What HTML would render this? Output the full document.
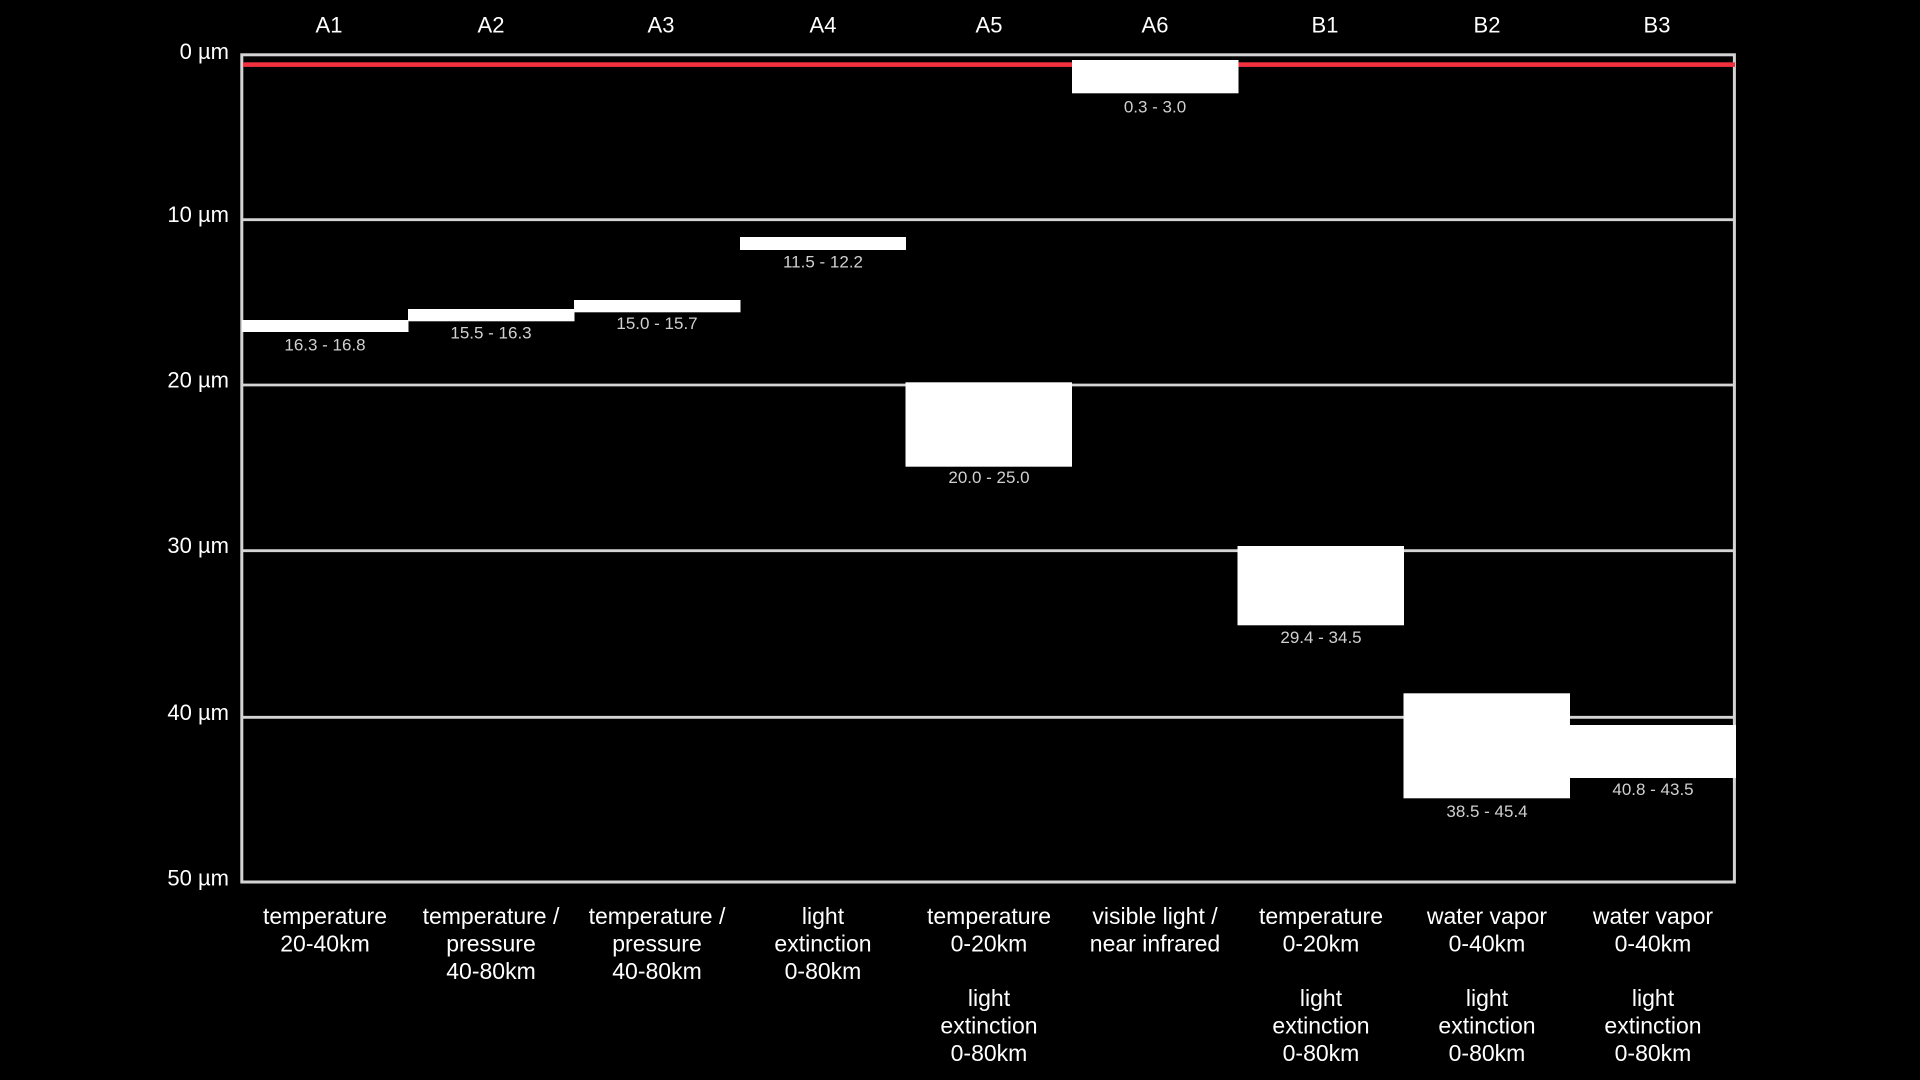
<!DOCTYPE html>
<html>
<head>
<meta charset="utf-8">
<style>
  html, body { margin:0; padding:0; background:#000; }
  body { width:1920px; height:1080px; overflow:hidden; }
  svg { display:block; }
  text { font-family: "Liberation Sans", sans-serif; }
</style>
</head>
<body>
<svg width="1920" height="1080" viewBox="0 0 1920 1080" xmlns="http://www.w3.org/2000/svg">
  <rect x="0" y="0" width="1920" height="1080" fill="#000"/>

  <!-- gridlines -->
  <g stroke="#d4d4d4" stroke-width="2.8">
    <line x1="242" y1="219.7" x2="1735" y2="219.7"/>
    <line x1="242" y1="385" x2="1735" y2="385"/>
    <line x1="242" y1="550.7" x2="1735" y2="550.7"/>
    <line x1="242" y1="717.3" x2="1735" y2="717.3"/>
  </g>
  <!-- border -->
  <rect x="241.8" y="54.8" width="1492.6" height="827.2" fill="none" stroke="#d4d4d4" stroke-width="3"/>

  <!-- red line -->
  <rect x="243" y="62.3" width="1492" height="4.6" fill="#f2303e"/>

  <!-- bars -->
  <g fill="#ffffff">
    <rect x="242" y="320" width="166.5" height="12"/>
    <rect x="408" y="309" width="166.5" height="12.3"/>
    <rect x="574" y="300" width="166.5" height="12.3"/>
    <rect x="740" y="237" width="166" height="13"/>
    <rect x="905.5" y="382.3" width="166.5" height="84.4"/>
    <rect x="1072" y="60" width="166.5" height="33.3"/>
    <rect x="1237.5" y="546" width="166.5" height="79.3"/>
    <rect x="1403.5" y="693.3" width="166.5" height="105"/>
    <rect x="1570" y="725" width="166" height="53"/>
  </g>

  <!-- bar labels -->
  <g fill="#d0d0d0" font-size="17" text-anchor="middle">
    <text x="325" y="350.5">16.3 - 16.8</text>
    <text x="491" y="338.5">15.5 - 16.3</text>
    <text x="657" y="329">15.0 - 15.7</text>
    <text x="823" y="267.5">11.5 - 12.2</text>
    <text x="989" y="483">20.0 - 25.0</text>
    <text x="1155" y="112.5">0.3 - 3.0</text>
    <text x="1321" y="643">29.4 - 34.5</text>
    <text x="1487" y="817">38.5 - 45.4</text>
    <text x="1653" y="795">40.8 - 43.5</text>
  </g>

  <!-- top labels -->
  <g fill="#ffffff" font-size="22" text-anchor="middle">
    <text x="329" y="32.3">A1</text>
    <text x="491" y="32.3">A2</text>
    <text x="661" y="32.3">A3</text>
    <text x="823" y="32.3">A4</text>
    <text x="989" y="32.3">A5</text>
    <text x="1155" y="32.3">A6</text>
    <text x="1325" y="32.3">B1</text>
    <text x="1487" y="32.3">B2</text>
    <text x="1657" y="32.3">B3</text>
  </g>

  <!-- y axis labels -->
  <g fill="#ffffff" font-size="22" text-anchor="end">
    <text x="229" y="59">0 µm</text>
    <text x="229" y="222">10 µm</text>
    <text x="229" y="387.5">20 µm</text>
    <text x="229" y="553">30 µm</text>
    <text x="229" y="720">40 µm</text>
    <text x="229" y="885.5">50 µm</text>
  </g>

  <!-- bottom labels -->
  <g fill="#ffffff" font-size="23" text-anchor="middle">
    <text x="325" y="924">temperature</text>
    <text x="325" y="951.5">20-40km</text>

    <text x="491" y="924">temperature /</text>
    <text x="491" y="951.5">pressure</text>
    <text x="491" y="979">40-80km</text>

    <text x="657" y="924">temperature /</text>
    <text x="657" y="951.5">pressure</text>
    <text x="657" y="979">40-80km</text>

    <text x="823" y="924">light</text>
    <text x="823" y="951.5">extinction</text>
    <text x="823" y="979">0-80km</text>

    <text x="989" y="924">temperature</text>
    <text x="989" y="951.5">0-20km</text>
    <text x="989" y="1006">light</text>
    <text x="989" y="1033.5">extinction</text>
    <text x="989" y="1061">0-80km</text>

    <text x="1155" y="924">visible light /</text>
    <text x="1155" y="951.5">near infrared</text>

    <text x="1321" y="924">temperature</text>
    <text x="1321" y="951.5">0-20km</text>
    <text x="1321" y="1006">light</text>
    <text x="1321" y="1033.5">extinction</text>
    <text x="1321" y="1061">0-80km</text>

    <text x="1487" y="924">water vapor</text>
    <text x="1487" y="951.5">0-40km</text>
    <text x="1487" y="1006">light</text>
    <text x="1487" y="1033.5">extinction</text>
    <text x="1487" y="1061">0-80km</text>

    <text x="1653" y="924">water vapor</text>
    <text x="1653" y="951.5">0-40km</text>
    <text x="1653" y="1006">light</text>
    <text x="1653" y="1033.5">extinction</text>
    <text x="1653" y="1061">0-80km</text>
  </g>
</svg>
</body>
</html>
